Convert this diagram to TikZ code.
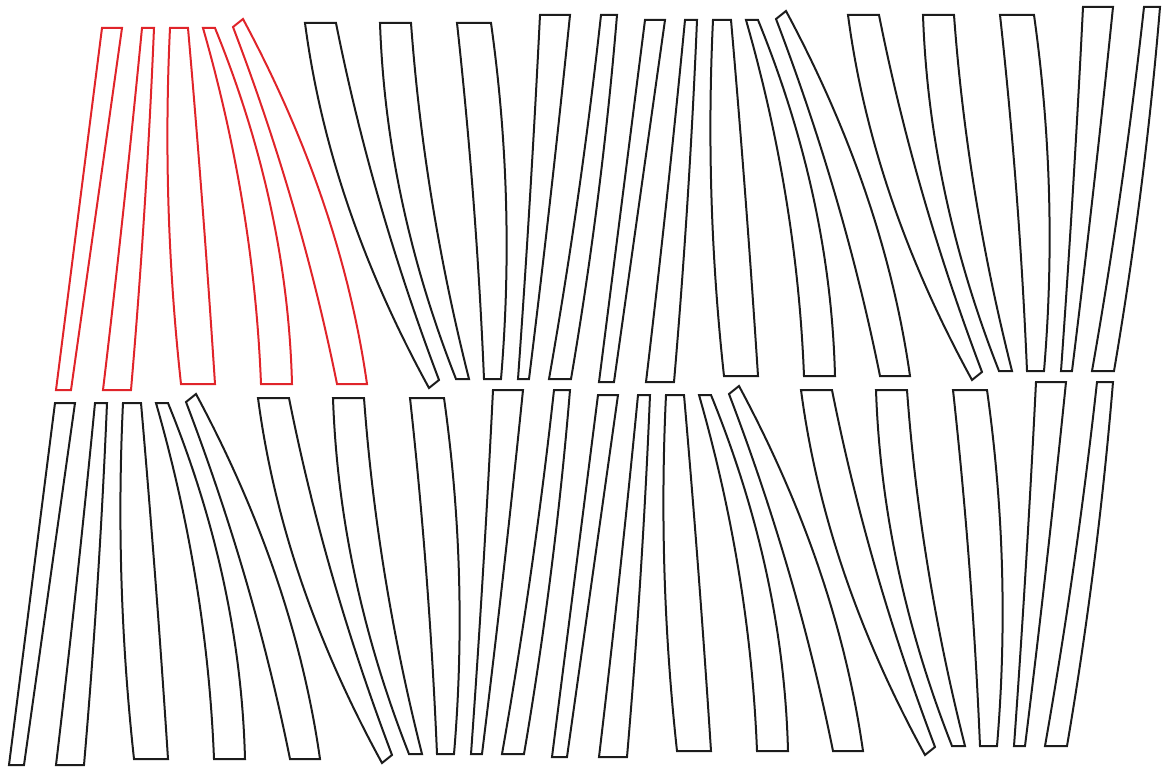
\documentclass[tikz,border=0pt]{standalone}
\usetikzlibrary{calc}
\definecolor{stripred}{RGB}{224,36,42}
\definecolor{stripblack}{RGB}{28,28,28}
\tikzset{
  strip/.style={draw=stripblack, line width=2pt, line join=miter},
  redstrip/.style={strip, draw=stripred}
}
% #1 style, #2 top-left, #3 top-right, #4 bottom-right, #5 bottom-left,
% #6 bulge of left side, #7 bulge of right side (horizontal, at mid height)
\newcommand{\band}[7]{%
  \draw[#1] #2 -- #3
    .. controls ($#3!1/3!#4+({4/3*(#7)},0)$) and ($#3!2/3!#4+({4/3*(#7)},0)$) .. #4
    -- #5
    .. controls ($#5!1/3!#2+({4/3*(#6)},0)$) and ($#5!2/3!#2+({4/3*(#6)},0)$) .. #2
    -- cycle;}
% one group of ten strips; #1 = style of the first five
\newcommand{\stripgroup}[1]{%
  \band{#1}{(102,28)}{(122,28)}{(71,390)}{(56,390)}{0}{0}
  \band{#1}{(142,28)}{(154,28)}{(131,390)}{(103,390)}{1}{2}
  \band{#1}{(170,28)}{(188,28)}{(215,384)}{(181,384)}{-7}{1}
  \band{#1}{(203,28)}{(215,28)}{(292,384)}{(261,384)}{11}{17}
  \band{#1}{(233,27)}{(243,19)}{(367,384)}{(337,384)}{8}{18}
  \band{strip}{(305,23)}{(336,23)}{(439,380)}{(429,388)}{-19}{-8}
  \band{strip}{(380,23)}{(411,23)}{(469,379)}{(456,379)}{-16}{-8}
  \band{strip}{(457,23)}{(491,23)}{(501,379)}{(484,379)}{3}{10}
  \band{strip}{(540,15)}{(570,15)}{(529,379)}{(518,379)}{1}{1}
  \band{strip}{(601,15)}{(617,15)}{(571,379)}{(549,379)}{3}{4}
}
\begin{document}
\begin{tikzpicture}[x=1pt,y=-1pt]
  \useasboundingbox (0,0) rectangle (1165,768);
  \stripgroup{redstrip}
  \begin{scope}[shift={(543,-8)}]\stripgroup{strip}\end{scope}
  \begin{scope}[shift={(-47,375)}]\stripgroup{strip}\end{scope}
  \begin{scope}[shift={(496,367)}]\stripgroup{strip}\end{scope}
\end{tikzpicture}
\end{document}
